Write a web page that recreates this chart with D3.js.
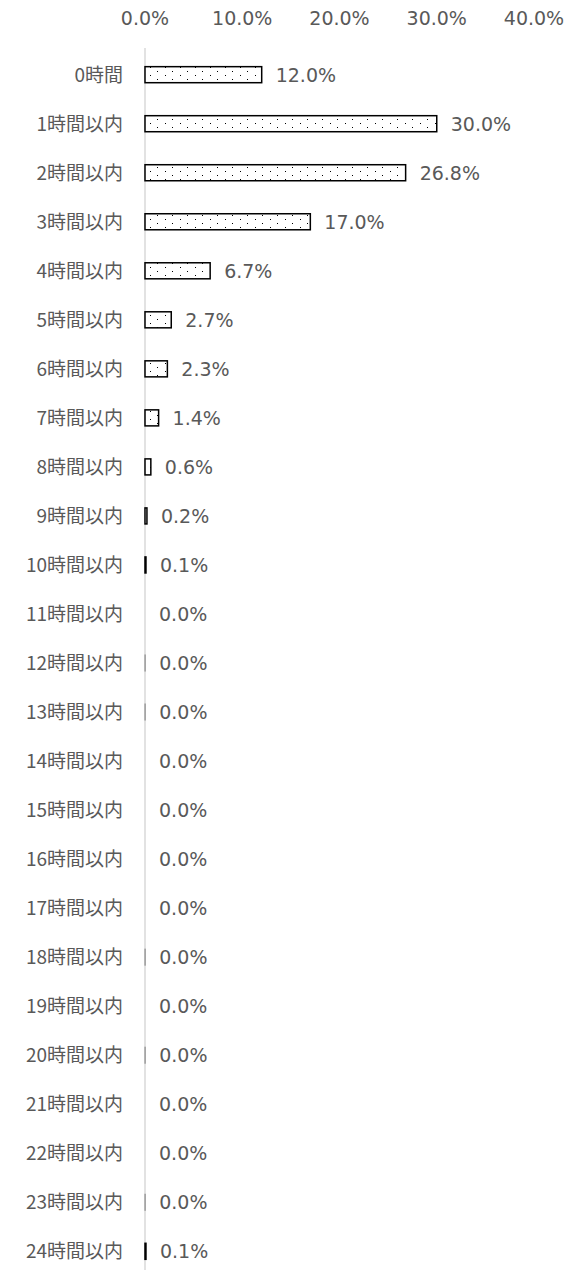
<!DOCTYPE html>
<html>
<head>
<meta charset="utf-8">
<script src="https://cdn.jsdelivr.net/npm/d3@7"></script>
<style>
  body { margin: 0; background: #fff; }
</style>
</head>
<body>
<div id="chart"></div>
<script>
// categories and values (percent)
var categories = ["0時間", "1時間以内", "2時間以内", "3時間以内", "4時間以内", "5時間以内",
  "6時間以内", "7時間以内", "8時間以内", "9時間以内", "10時間以内", "11時間以内",
  "12時間以内", "13時間以内", "14時間以内", "15時間以内", "16時間以内", "17時間以内",
  "18時間以内", "19時間以内", "20時間以内", "21時間以内", "22時間以内", "23時間以内",
  "24時間以内"];
var values = [12.0, 30.0, 26.8, 17.0, 6.7, 2.7, 2.3, 1.4, 0.6, 0.2, 0.1, 0,
  0.02, 0.02, 0, 0, 0, 0, 0.02, 0, 0.02, 0, 0, 0.02, 0.1];
var ticks = [0, 10, 20, 30, 40];

var data = categories.map((c, i) => ({cat: c, value: values[i]}));

var svgWidth = 583, svgHeight = 1277;

var svg = d3.select("#chart").append("svg")
  .attr("width", svgWidth)
  .attr("height", svgHeight);

// dotted fill pattern
var pat = svg.append("defs").append("pattern")
  .attr("id", "dots")
  .attr("patternUnits", "userSpaceOnUse")
  .attr("width", 15).attr("height", 8);
pat.append("rect").attr("width", 15).attr("height", 8).attr("fill", "#fff");
pat.append("rect").attr("x", 0).attr("y", 3).attr("width", 1).attr("height", 1).attr("fill", "#000");
pat.append("rect").attr("x", 7).attr("y", 7).attr("width", 1).attr("height", 1).attr("fill", "#000");

var x = d3.scaleLinear()
  .domain([0, 40])
  .range([145, 534]);

var y = d3.scaleBand()
  .domain(categories)
  .range([50, 1276])
  .paddingInner(0.673)
  .paddingOuter(0.34);

var numFont = "DejaVu Sans, Verdana, sans-serif";

// top tick labels
svg.append("g")
  .selectAll("text")
  .data(ticks)
  .enter().append("text")
    .attr("x", d => x(d))
    .attr("y", 25)
    .attr("text-anchor", "middle")
    .attr("font-family", numFont)
    .attr("font-size", 19)
    .attr("fill", "#595959")
    .text(d => d.toFixed(1) + "%");

// vertical axis line
svg.append("line")
  .attr("x1", x(0)).attr("x2", x(0))
  .attr("y1", 48).attr("y2", 1270)
  .attr("stroke", "#d9d9d9")
  .attr("stroke-width", 1.5);

// category labels
svg.append("g")
  .selectAll("text")
  .data(data)
  .enter().append("text")
    .attr("x", 123)
    .attr("y", d => y(d.cat) + y.bandwidth() / 2)
    .attr("dy", "0.36em")
    .attr("text-anchor", "end")
    .attr("font-family", "Noto Sans CJK JP, sans-serif")
    .attr("font-size", 19)
    .attr("fill", "#595959")
    .text(d => d.cat);

// bars
svg.append("g")
  .selectAll("rect")
  .data(data.filter(d => d.value > 0))
  .enter().append("rect")
    .attr("x", x(0))
    .attr("y", d => y(d.cat))
    .attr("width", d => x(d.value) - x(0))
    .attr("height", y.bandwidth())
    .attr("fill", "url(#dots)")
    .attr("stroke", d => d.value < 0.05 ? "#888" : "#000")
    .attr("stroke-width", d => d.value < 0.05 ? 1 : 1.5);

// value labels
svg.append("g")
  .selectAll("text")
  .data(data)
  .enter().append("text")
    .attr("x", d => x(d.value) + 14)
    .attr("y", d => y(d.cat) + y.bandwidth() / 2)
    .attr("dy", "0.36em")
    .attr("font-family", numFont)
    .attr("font-size", 19)
    .attr("fill", "#595959")
    .text(d => d.value.toFixed(1) + "%");
</script>
</body>
</html>
